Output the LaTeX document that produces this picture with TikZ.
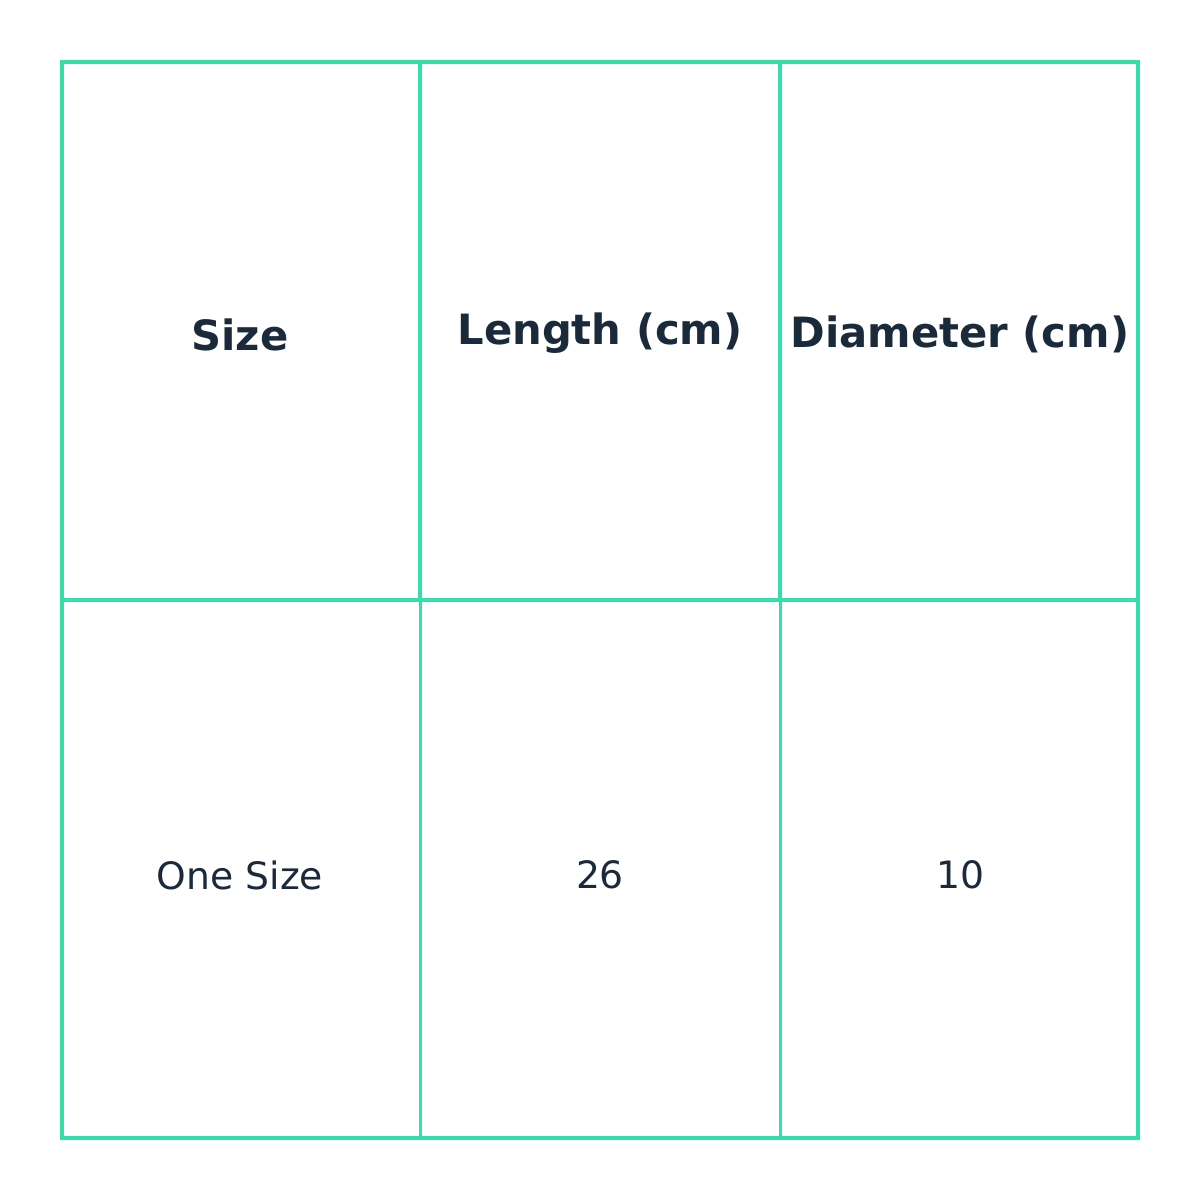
\documentclass[tikz,border=0pt]{standalone}
\usepackage{fontspec}
\setmainfont{DejaVu Sans}
\definecolor{grid}{HTML}{34E0AA}
\definecolor{ink}{HTML}{1B2A3B}
\tikzset{
  head/.style={text=ink, font=\fontsize{41.7}{50}\selectfont\bfseries, inner sep=0pt},
  cell/.style={text=ink, font=\fontsize{37.7}{45}\selectfont, inner sep=0pt},
  outer line/.style={draw=grid, line width=4pt},
  head line/.style={draw=grid, line width=4.5pt},
  thin line/.style={draw=grid, line width=3pt},
}
\begin{document}
\begin{tikzpicture}[x=1pt,y=-1pt]
\useasboundingbox (0,0) rectangle (1200,1200);
\fill[white] (0,0) rectangle (1200,1200);
% grid
\draw[thin line] (420,600) -- (420,1138);
\draw[thin line] (780,600) -- (780,1138);
\draw[head line] (420,62) -- (420,600);
\draw[head line] (780,62) -- (780,600);
\draw[outer line] (62,600) -- (1138,600);
\draw[outer line] (62,62) rectangle (1138,1138);
% texts
\node[head] (h1) at (240,335) {Size};
\node[head] (h2) at (600,333) {Length (cm)};
\node[head] (h3) at (960,334) {Diameter (cm)};
\node[cell] (c1) at (240,875) {One Size};
\node[cell] (c2) at (600,875) {26};
\node[cell] (c3) at (960,875) {10};
\end{tikzpicture}
\end{document}
